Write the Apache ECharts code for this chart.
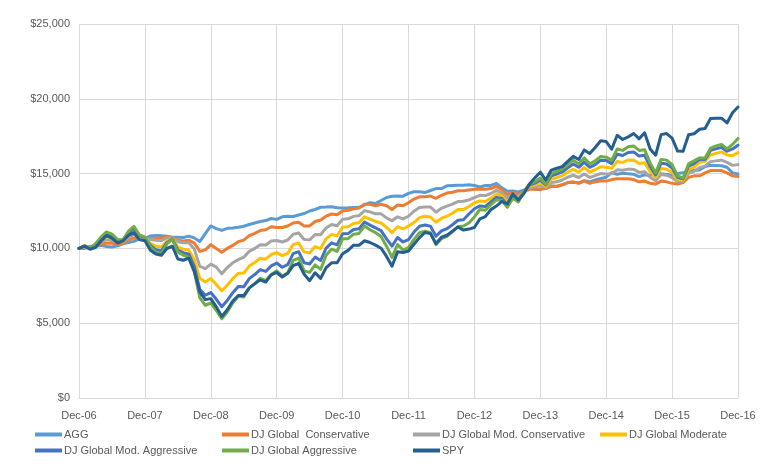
<!DOCTYPE html>
<html>
<head>
<meta charset="utf-8">
<script src="https://cdn.jsdelivr.net/npm/echarts@6/dist/echarts.min.js"></script>
<style>
html,body{margin:0;padding:0;background:#fff;}
#chart{width:773px;height:464px;}
</style>
</head>
<body>
<div id="chart"></div>
<script>
var months = [
"Dec-06",
"Jan-07","Feb-07","Mar-07","Apr-07","May-07","Jun-07","Jul-07","Aug-07","Sep-07","Oct-07","Nov-07","Dec-07",
"Jan-08","Feb-08","Mar-08","Apr-08","May-08","Jun-08","Jul-08","Aug-08","Sep-08","Oct-08","Nov-08","Dec-08",
"Jan-09","Feb-09","Mar-09","Apr-09","May-09","Jun-09","Jul-09","Aug-09","Sep-09","Oct-09","Nov-09","Dec-09",
"Jan-10","Feb-10","Mar-10","Apr-10","May-10","Jun-10","Jul-10","Aug-10","Sep-10","Oct-10","Nov-10","Dec-10",
"Jan-11","Feb-11","Mar-11","Apr-11","May-11","Jun-11","Jul-11","Aug-11","Sep-11","Oct-11","Nov-11","Dec-11",
"Jan-12","Feb-12","Mar-12","Apr-12","May-12","Jun-12","Jul-12","Aug-12","Sep-12","Oct-12","Nov-12","Dec-12",
"Jan-13","Feb-13","Mar-13","Apr-13","May-13","Jun-13","Jul-13","Aug-13","Sep-13","Oct-13","Nov-13","Dec-13",
"Jan-14","Feb-14","Mar-14","Apr-14","May-14","Jun-14","Jul-14","Aug-14","Sep-14","Oct-14","Nov-14","Dec-14",
"Jan-15","Feb-15","Mar-15","Apr-15","May-15","Jun-15","Jul-15","Aug-15","Sep-15","Oct-15","Nov-15","Dec-15",
"Jan-16","Feb-16","Mar-16","Apr-16","May-16","Jun-16","Jul-16","Aug-16","Sep-16","Oct-16","Nov-16","Dec-16"
];

var seriesNames = ["AGG","DJ Global  Conservative","DJ Global Mod. Conservative","DJ Global Moderate","DJ Global Mod. Aggressive","DJ Global Aggressive","SPY"];

var agg = [10000,
9990,10140,10150,10200,10120,10090,10170,10300,10390,10470,10650,10660,
10830,10870,10850,10810,10740,10740,10730,10820,10700,10460,10980,11500,
11320,11200,11340,11370,11420,11480,11600,11700,11800,11860,12000,11940,
12110,12150,12130,12230,12330,12500,12600,12750,12760,12790,12720,12700,
12710,12740,12740,12910,13060,13000,13200,13400,13480,13500,13490,13680,
13790,13790,13730,13870,14000,14000,14180,14200,14220,14220,14250,14200,
14100,14200,14210,14340,14050,13820,13830,13770,13900,14020,13970,13920,
14140,14170,14140,14250,14400,14410,14380,14530,14450,14570,14670,14760,
15060,14960,15020,14990,14950,14800,14920,14880,14980,14990,14940,14880,
15000,15050,15180,15230,15240,15480,15560,15540,15520,15420,15050,14980];

var conservative = [10000,
10050,10100,10150,10300,10350,10350,10300,10350,10550,10700,10650,10650,
10650,10700,10700,10750,10700,10550,10500,10550,10350,9800,9900,10250,
10000,9750,10000,10200,10450,10550,10850,11000,11200,11250,11450,11400,
11400,11500,11700,11750,11500,11500,11800,11900,12150,12300,12250,12500,
12550,12650,12700,12950,12950,12850,12950,12850,12600,12900,12850,13050,
13300,13450,13450,13500,13350,13550,13700,13750,13850,13850,13900,13950,
13950,13950,14000,14150,13900,13600,13750,13600,13800,13950,13950,13950,
14000,14150,14150,14250,14400,14450,14350,14500,14350,14450,14500,14500,
14600,14650,14650,14650,14600,14450,14500,14350,14300,14500,14450,14350,
14300,14400,14750,14850,14850,15050,15200,15200,15200,15050,14850,14800];

var modConservative = [10000,
10090,10070,10200,10440,10580,10530,10390,10420,10730,10930,10730,10680,
10600,10550,10520,10700,10720,10450,10380,10380,9950,8800,8650,8950,
8750,8300,8720,9040,9250,9410,9800,10000,10240,10230,10490,10530,
10430,10560,10950,11030,10600,10570,10930,10910,11370,11600,11520,11950,
11980,12140,12190,12520,12440,12310,12310,12040,11850,12110,11970,12150,
12490,12730,12760,12770,12420,12680,12830,12960,13130,13150,13240,13400,
13550,13530,13670,13880,13690,13350,13630,13450,13800,14060,14100,14180,
14090,14410,14450,14570,14760,14890,14740,14970,14740,14870,15000,14980,
14990,15250,15220,15300,15280,15080,15130,14760,14530,14940,14890,14730,
14470,14490,15020,15150,15400,15500,15800,15850,15900,15750,15550,15600];

var moderate = [10000,
10130,10040,10240,10560,10790,10700,10470,10480,10900,11150,10800,10710,
10330,10150,10090,10490,10640,10090,9950,9880,9250,8000,7750,7990,
7590,7170,7540,7970,8330,8350,8820,9060,9340,9280,9590,9720,
9520,9670,10250,10360,9760,9700,10120,9990,10640,10940,10830,11430,
11450,11660,11710,12110,11960,11810,11700,11400,11050,11450,11300,11500,
11730,12060,12150,12100,11750,12000,12150,12350,12600,12600,12800,13050,
13170,13140,13360,13630,13490,13110,13520,13310,13800,14150,14240,14390,
14170,14640,14730,14860,15100,15290,15100,15400,15100,15260,15460,15430,
15350,15810,15750,15900,15910,15670,15720,15130,14740,15340,15290,15080,
14620,14570,15270,15430,15750,15800,16250,16350,16450,16250,16200,16400];

var modAggressive = [10000,
10160,10020,10270,10670,10970,10840,10550,10540,11040,11340,10860,10730,
10200,9920,9840,10380,10620,9890,9720,9610,8790,7260,6870,7050,
6600,6100,6520,7040,7460,7430,7980,8250,8580,8460,8830,9020,
8740,8920,9650,9780,9040,8960,9420,9190,10020,10370,10240,10980,
10990,11260,11310,11760,11560,11370,11190,10640,10150,10730,10430,10590,
11090,11480,11560,11490,10810,11170,11320,11580,11880,11920,12300,12650,
12840,12800,13100,13410,13330,12900,13420,13190,13800,14240,14360,14570,
14250,14850,14970,15110,15380,15640,15420,15770,15420,15600,15900,15880,
15670,16290,16210,16410,16450,16170,16220,15460,14920,15690,15640,15380,
14750,14650,15490,15670,15950,15950,16550,16650,16750,16500,16650,16900];

var aggressive = [10000,
10180,10000,10300,10750,11100,10950,10600,10580,11150,11480,10900,10750,
10100,9750,9650,10300,10600,9750,9550,9400,8450,6700,6200,6350,
5850,5300,5750,6350,6800,6750,7350,7650,8000,7850,8250,8500,
8150,8350,9200,9350,8500,8400,8900,8600,9550,9950,9800,10650,
10650,10950,11000,11500,11250,11050,10800,10150,9400,10250,9900,10050,
10600,11050,11150,11050,10250,10650,10800,11100,11450,11500,11700,12100,
12600,12550,12900,13250,13200,12750,13350,13100,13800,14300,14450,14700,
14300,15000,15150,15300,15600,15900,15650,16050,15650,15850,16150,16100,
15900,16650,16550,16800,16850,16550,16600,15700,15050,15950,15900,15600,
14850,14700,15650,15850,16050,16050,16700,16850,16950,16650,16950,17350];

var spy = [10000,
10150,9947,10056,10499,10856,10693,10362,10497,10875,11049,10585,10511,
9880,9623,9537,9994,10144,9292,9208,9346,8468,7071,6576,6642,
6097,5445,5902,6486,6849,6849,7363,7628,7903,7753,8234,8390,
8088,8339,8848,8990,8271,7841,8374,7997,8709,9040,9040,9646,
9868,10213,10213,10509,10394,10217,10013,9462,8809,9769,9730,9827,
10279,10721,11064,10987,10328,10751,10880,11152,11431,11225,11292,11394,
11975,12131,12592,12831,13139,12968,13642,13233,13656,14284,14713,15095,
14567,15237,15359,15467,15822,16154,15944,16582,16350,16743,17195,17143,
16629,17560,17279,17452,17679,17325,17724,16643,16227,17606,17676,17376,
16507,16491,17596,17666,17966,18020,18687,18706,18706,18388,19068,19450];

var colors = ["#5B9BD5","#ED7D31","#A5A5A5","#FFC000","#4472C4","#70AD47","#255E91"];
var allData = [agg, conservative, modConservative, moderate, modAggressive, aggressive, spy];

var legendPos = [
  [35, 429], [222, 429], [413, 429], [600, 429],
  [35, 445], [222, 445], [413, 445]
];

var FONT = "'Liberation Sans', Arial, sans-serif";
var TXT = "#595959";
var GRID = "#D9D9D9";

var chart = echarts.init(document.getElementById('chart'), null, {renderer: 'canvas'});

var series = seriesNames.map(function (n, i) {
  return {
    name: n,
    type: 'line',
    data: allData[i],
    symbol: 'none',
    showSymbol: false,
    smooth: false,
    lineStyle: {width: 3, color: colors[i], cap: 'round', join: 'round'},
    itemStyle: {color: colors[i]},
    emphasis: {disabled: true},
    z: 2 + i
  };
});

var legends = seriesNames.map(function (n, i) {
  return {
    data: [n],
    left: legendPos[i][0],
    top: legendPos[i][1],
    orient: 'horizontal',
    icon: 'rect',
    itemWidth: 27,
    itemHeight: 4,
    padding: 0,
    itemGap: 0,
    selectedMode: false,
    textStyle: {fontFamily: FONT, fontSize: 11, color: TXT, padding: [0, 0, 0, -3]}
  };
});

chart.setOption({
  animation: false,
  backgroundColor: '#ffffff',
  color: colors,
  grid: {left: 79, right: 35, top: 24, bottom: 66, containLabel: false},
  legend: legends,
  xAxis: {
    type: 'category',
    data: months,
    boundaryGap: false,
    axisTick: {show: false},
    axisLine: {show: true, lineStyle: {color: GRID, width: 1}},
    axisLabel: {interval: 11, color: TXT, fontFamily: FONT, fontSize: 11, margin: 12},
    splitLine: {show: true, interval: 11, lineStyle: {color: GRID, width: 1}}
  },
  yAxis: {
    type: 'value',
    min: 0,
    max: 25000,
    interval: 5000,
    axisLine: {show: false},
    axisTick: {show: false},
    axisLabel: {
      color: TXT, fontFamily: FONT, fontSize: 11, margin: 9,
      formatter: function (v) { return '$' + v.toLocaleString('en-US'); }
    },
    splitLine: {show: true, lineStyle: {color: GRID, width: 1}}
  },
  series: series
});
</script>
</body>
</html>
